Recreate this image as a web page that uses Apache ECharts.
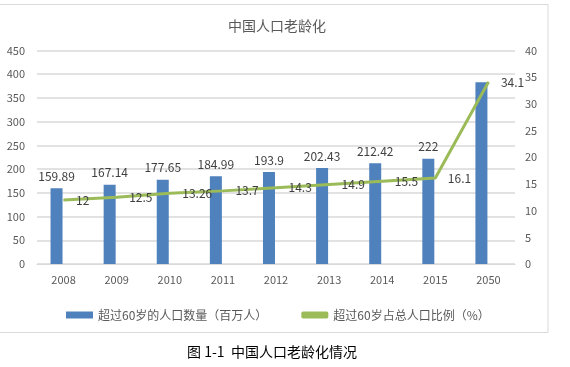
<!DOCTYPE html>
<html>
<head>
<meta charset="utf-8">
<script src="https://cdn.jsdelivr.net/npm/echarts@6/dist/echarts.min.js"></script>
<style>
html,body{margin:0;padding:0;background:#fff;}
#c{width:570px;height:367px;}
</style>
</head>
<body>
<div id="c"></div>
<script>
const categories = ['2008','2009','2010','2011','2012','2013','2014','2015','2050'];
const population = [159.89, 167.14, 177.65, 184.99, 193.9, 202.43, 212.42, 222, 383];
const ratio = [12, 12.5, 13.26, 13.7, 14.3, 14.9, 15.5, 16.1, 34.1];
const barName = '超过60岁的人口数量（百万人）';
const lineName = '超过60岁占总人口比例（%）';
const chartTitle = '中国人口老龄化';
const caption = '图 1-1  中国人口老龄化情况';

const font = "'Noto Sans CJK SC', 'Noto Sans', sans-serif";
const chart = echarts.init(document.getElementById('c'), null, {renderer: 'canvas'});
chart.setOption({
  animation: false,
  backgroundColor: '#fff',
  textStyle: {fontFamily: font},
  graphic: [
    {type: 'rect', shape: {x: -1, y: 4.5, width: 549, height: 328}, style: {fill: 'none', stroke: '#D9D9D9', lineWidth: 1}, z: -1},
    {type: 'text', x: 272, y: 352, style: {text: caption, fontSize: 14, fill: '#000', fontFamily: font, align: 'center', verticalAlign: 'middle'}}
  ],
  title: {
    text: chartTitle, left: 272, top: 14, textAlign: 'center',
    textStyle: {fontSize: 14, fontWeight: 'normal', color: '#595959', fontFamily: font}
  },
  legend: {
    left: 61, top: 304, itemWidth: 27, itemHeight: 7, itemGap: 34,
    textStyle: {fontSize: 12, color: '#595959', fontFamily: font},
    data: [{name: barName, icon: 'rect'}, {name: lineName, icon: 'roundRect'}]
  },
  grid: {left: 37, right: 55, top: 50.5, bottom: 103},
  xAxis: {
    type: 'category', data: categories,
    axisLine: {lineStyle: {color: '#D9D9D9'}},
    axisTick: {show: false},
    axisLabel: {color: '#595959', fontSize: 11, margin: 10}
  },
  yAxis: [
    {type: 'value', min: 0, max: 450, interval: 50,
     axisLine: {show: false}, axisTick: {show: false},
     axisLabel: {color: '#595959', fontSize: 11, margin: 12},
     splitLine: {lineStyle: {color: '#D9D9D9', width: 1.5}}},
    {type: 'value', min: 0, max: 40, interval: 5,
     axisLine: {show: false}, axisTick: {show: false},
     axisLabel: {color: '#595959', fontSize: 11, margin: 10},
     splitLine: {show: false}}
  ],
  series: [
    {name: barName, type: 'bar', data: population, barWidth: 12, barGap: '17%',
     itemStyle: {color: '#4F81BD'},
     label: {show: true, position: 'top', distance: 6, color: '#404040', fontSize: 12,
       formatter: p => p.dataIndex === population.length - 1 ? '' : String(p.value)}},
    {name: 'pad', type: 'bar', data: categories.map(() => null), barWidth: 12, yAxisIndex: 0},
    {name: lineName, type: 'line', yAxisIndex: 1, data: ratio,
     symbol: 'circle', symbolSize: 1, showSymbol: true,
     lineStyle: {color: '#9BBB59', width: 3},
     itemStyle: {color: '#9BBB59'},
     label: {show: true, position: 'right', distance: 12, color: '#404040', fontSize: 12}}
  ]
});
</script>
</body>
</html>
